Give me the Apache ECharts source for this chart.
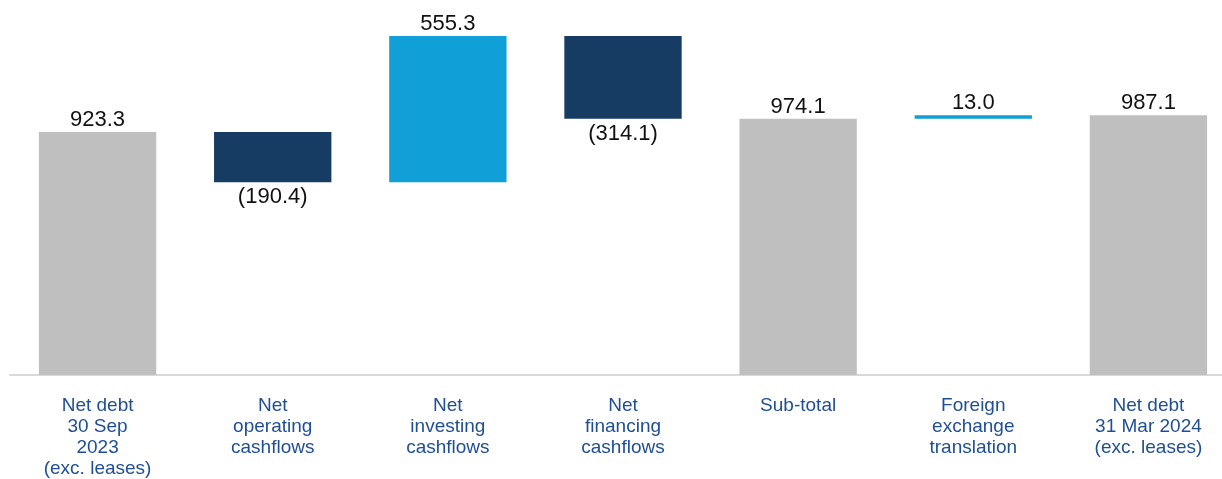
<!DOCTYPE html>
<html>
<head>
<meta charset="utf-8">
<script src="https://cdn.jsdelivr.net/npm/echarts@6/dist/echarts.min.js"></script>
<style>
  html, body { margin: 0; padding: 0; background: #fff; overflow: hidden; }
  #chart { width: 1236px; height: 479px; }
</style>
</head>
<body>
<div id="chart"></div>
<script>
// waterfall data (GBP m)
const categories = [
  'Net debt\n30 Sep\n2023\n(exc. leases)',
  'Net\noperating\ncashflows',
  'Net\ninvesting\ncashflows',
  'Net\nfinancing\ncashflows',
  'Sub-total',
  'Foreign\nexchange\ntranslation',
  'Net debt\n31 Mar 2024\n(exc. leases)'
];
const changes = [923.3, -190.4, 555.3, -314.1, 974.1, 13.0, 987.1];
const kinds = ['total', 'down', 'up', 'down', 'total', 'up', 'total'];

const colors = { total: '#bfbfbf', down: '#173c63', up: '#109fd7' };

// running totals -> invisible base + visible bar height
const baseData = [];
const barData = [];
let running = 0;
changes.forEach((v, i) => {
  const kind = kinds[i];
  let base;
  if (kind === 'total') {
    base = 0;
    running = v;
  } else if (v >= 0) {
    base = running;
    running += v;
  } else {
    running += v;
    base = running;
  }
  baseData.push(base);
  barData.push({
    value: Math.abs(v),
    itemStyle: { color: colors[kind] },
    label: v < 0 ? { position: 'bottom', distance: 4 } : { position: 'top', distance: 1 }
  });
});

const fmt = (i) => {
  const v = changes[i];
  return v < 0 ? '(' + Math.abs(v).toFixed(1) + ')' : v.toFixed(1);
};

const chart = echarts.init(document.getElementById('chart'));
chart.setOption({
  animation: false,
  grid: { left: 10, right: 0, top: 0, height: 378 },
  xAxis: {
    type: 'category',
    data: categories,
    axisLine: { lineStyle: { color: '#d9d9d9', width: 2 } },
    axisTick: { show: false },
    axisLabel: {
      interval: 0,
      margin: 20,
      color: '#1f4e94',
      fontFamily: 'Liberation Sans, Arial, sans-serif',
      fontSize: 19,
      lineHeight: 21
    }
  },
  yAxis: {
    type: 'value',
    min: 0,
    max: 1425,
    show: false,
    splitLine: { show: false }
  },
  series: [
    {
      name: 'base',
      type: 'bar',
      stack: 'wf',
      barWidth: '67%',
      itemStyle: { color: 'transparent' },
      emphasis: { disabled: true },
      data: baseData
    },
    {
      name: 'value',
      type: 'bar',
      stack: 'wf',
      barWidth: '67%',
      label: {
        show: true,
        color: '#111',
        fontFamily: 'Liberation Sans, Arial, sans-serif',
        fontSize: 22,
        formatter: (p) => fmt(p.dataIndex)
      },
      data: barData
    }
  ]
});
</script>
</body>
</html>
